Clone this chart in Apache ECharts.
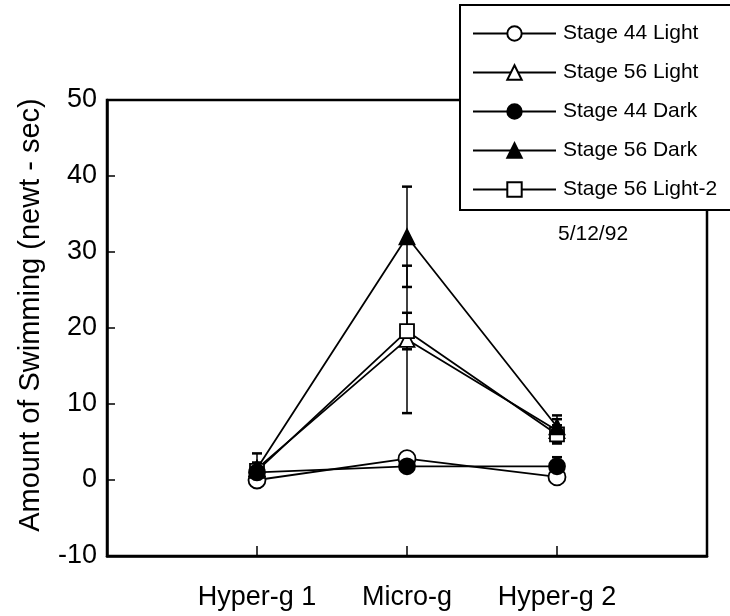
<!DOCTYPE html>
<html>
<head>
<meta charset="utf-8">
<script src="https://cdn.jsdelivr.net/npm/echarts@6/dist/echarts.min.js"></script>
<style>html,body{margin:0;padding:0;background:#fff;}#c{width:730px;height:616px;}</style>
</head>
<body>
<div id="c"></div>
<script>
// ---- data ----
const categories = ['Hyper-g 1', 'Micro-g', 'Hyper-g 2'];
const yTicks = [-10, 0, 10, 20, 30, 40, 50];
const seriesNames = ['Stage 44 Light', 'Stage 56 Light', 'Stage 44 Dark', 'Stage 56 Dark', 'Stage 56 Light-2'];
const stage44Light = [0.0, 2.8, 0.4];
const stage56Light = [1.5, 18.5, 6.5];
const stage44Dark = [1.0, 1.8, 1.8];
const stage56Dark = [1.5, 32.0, 7.0];
const stage56Light2 = [1.2, 19.6, 6.0];
// error bar half-widths per category
const err56Dark = [2.0, 6.6, 1.5];
const err56Light = [0.8, 9.7, 1.5];
const err56Light2 = [0.5, 2.4, 1.2];
const err44Dark = [0.5, 0.6, 1.2];
const dateNote = '5/12/92';

const FONT = 'Liberation Sans, Arial, sans-serif';
const chart = echarts.init(document.getElementById('c'));

function pts(arr) { return arr.map((v, i) => [i + 1, v]); }
function errData(vals, err) { return vals.map((v, i) => [i + 1, v - err[i], v + err[i]]); }

function errSeries(vals, err) {
  return {
    type: 'custom',
    silent: true,
    z: 1,
    data: errData(vals, err),
    renderItem: function (params, api) {
      const x = api.value(0);
      const p1 = api.coord([x, api.value(1)]);
      const p2 = api.coord([x, api.value(2)]);
      const w = 5;
      const cap = { stroke: '#000', lineWidth: 2.5 };
      return {
        type: 'group',
        children: [
          { type: 'line', shape: { x1: p1[0], y1: p1[1], x2: p2[0], y2: p2[1] }, style: { stroke: '#000', lineWidth: 1.5 } },
          { type: 'line', shape: { x1: p1[0] - w, y1: p1[1], x2: p1[0] + w, y2: p1[1] }, style: cap },
          { type: 'line', shape: { x1: p2[0] - w, y1: p2[1], x2: p2[0] + w, y2: p2[1] }, style: cap }
        ]
      };
    }
  };
}

function lineSeries(name, data, symbol, filled, size, z) {
  return {
    name: name,
    type: 'line',
    data: pts(data),
    symbol: symbol,
    symbolSize: size,
    showSymbol: true,
    z: z,
    lineStyle: { color: '#000', width: 1.8 },
    itemStyle: { color: filled ? '#000' : '#fff', borderColor: '#000', borderWidth: 1.8 },
    emphasis: { disabled: true },
    animation: false
  };
}

const option = {
  animation: false,
  backgroundColor: '#fff',
  textStyle: { fontFamily: FONT, color: '#000' },
  grid: { left: 107, right: 23, top: 100, bottom: 60, show: true, borderColor: '#000', borderWidth: 2.5, backgroundColor: 'transparent' },
  legend: {
    orient: 'vertical',
    left: 460,
    top: 5,
    data: seriesNames,
    itemWidth: 83,
    itemHeight: 18,
    itemGap: 18,
    padding: [18, 40, 10, 12],
    backgroundColor: '#fff',
    borderColor: '#000',
    borderWidth: 2,
    textStyle: { fontFamily: FONT, fontSize: 21, color: '#000', padding: [0, 0, 0, 2] },
    selectedMode: false,
    z: 10
  },
  xAxis: {
    type: 'value',
    min: 0,
    max: 4,
    interval: 1,
    splitLine: { show: false },
    axisLine: { show: true, onZero: false, lineStyle: { color: '#000', width: 2.5 } },
    axisTick: { show: true, inside: true, length: 10, lineStyle: { color: '#000', width: 1.5 } },
    axisLabel: {
      fontFamily: FONT, fontSize: 27, color: '#000', margin: 28,
      formatter: function (v) { return categories[v - 1] || ''; }
    }
  },
  yAxis: {
    type: 'value',
    min: yTicks[0],
    max: yTicks[yTicks.length - 1],
    interval: 10,
    name: 'Amount of Swimming (newt - sec)',
    nameLocation: 'middle',
    nameGap: 62,
    nameTextStyle: { fontFamily: FONT, fontSize: 29, color: '#000', padding: [0, 0, 0, 26] },
    splitLine: { show: false },
    axisLine: { show: true, onZero: false, lineStyle: { color: '#000', width: 2.5 } },
    axisTick: { show: true, inside: true, length: 8, lineStyle: { color: '#000', width: 1.5 } },
    axisLabel: { fontFamily: FONT, fontSize: 27, color: '#000', margin: 10 }
  },
  graphic: [
    { type: 'text', left: 558, top: 224, z: 20, style: { text: dateNote, font: '21px Liberation Sans, Arial, sans-serif', fill: '#000' } }
  ],
  series: [
    errSeries(stage56Dark, err56Dark),
    errSeries(stage56Light, err56Light),
    errSeries(stage56Light2, err56Light2),
    errSeries(stage44Dark, err44Dark),
    lineSeries(seriesNames[0], stage44Light, 'circle', false, 17, 3),
    lineSeries(seriesNames[1], stage56Light, 'triangle', false, 15, 4),
    lineSeries(seriesNames[2], stage44Dark, 'circle', true, 16, 5),
    lineSeries(seriesNames[3], stage56Dark, 'triangle', true, 15, 6),
    lineSeries(seriesNames[4], stage56Light2, 'rect', false, 14, 4)
  ]
};
chart.setOption(option);
</script>
</body>
</html>
